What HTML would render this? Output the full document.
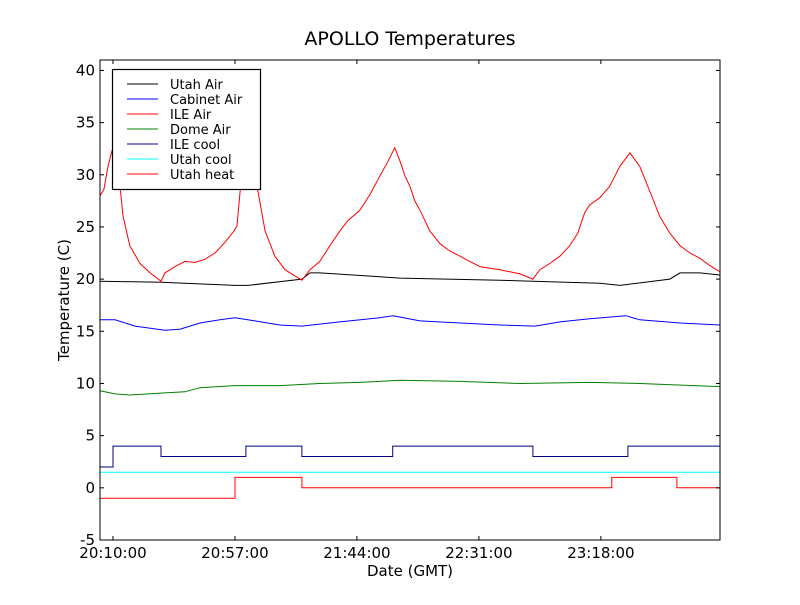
<!DOCTYPE html>
<html><head><meta charset="utf-8"><style>
body{margin:0;background:#fff;}
svg text{font-family:"DejaVu Sans","Liberation Sans",sans-serif;}
</style></head><body>
<svg id="chart" width="800" height="600" xmlns="http://www.w3.org/2000/svg">
<rect width="800" height="600" fill="#fff"/>
<text x="410" y="45" font-size="19" text-anchor="middle">APOLLO Temperatures</text>
<g id="plot"></g>
<g id="axes"></g>
<text x="410" y="576" font-size="15" text-anchor="middle">Date (GMT)</text>
<text transform="translate(69,300) rotate(-90)" font-size="15" text-anchor="middle">Temperature (C)</text>
<g id="legend"></g>
</svg>
<script>
// minutes since 20:10:00
const xTickMinutes=[0,47,94,141,188];
const xTickLabels=["20:10:00","20:57:00","21:44:00","22:31:00","23:18:00"];
const yTicks=[-5,0,5,10,15,20,25,30,35,40];
const seriesNames=["Utah Air","Cabinet Air","ILE Air","Dome Air","ILE cool","Utah cool","Utah heat"];
const seriesColors=["#000000","#0000ff","#ff0000","#008000","#000080","#00ffff","#ff0000"];
const ileAirT=[-5,-3.5,-1.9,-0.4,1.5,2.7,3.9,6.5,10.4,14.3,18.5,20,23.9,27.7,31.6,35.4,39.3,43.1,46.6,47.8,49,51.5,53.5,55.9,58.6,62.4,66.3,72.8,75.9,79.7,83.6,87.4,90.5,95.1,99,102.9,106,108.6,110.6,112.5,114.4,116.3,118.3,122.1,126,129.8,133.7,137.5,141.4,149.1,156.8,161.8,164.5,168.3,172.2,176,179.1,181.8,183.7,187.6,191.4,195.3,199.2,203,206.9,210.7,214.6,218.5,222.3,226.2,230,233.9];
const ileAirV=[28,28.6,30.8,32.3,33,28.9,26,23.2,21.5,20.6,19.8,20.6,21.2,21.7,21.6,21.9,22.5,23.5,24.6,25.1,28.4,33.5,31,28.4,24.6,22.2,20.9,19.9,20.9,21.7,23.2,24.6,25.6,26.6,28.1,29.9,31.3,32.6,31.3,29.9,28.9,27.5,26.6,24.6,23.4,22.7,22.2,21.7,21.2,20.9,20.5,20,20.9,21.5,22.2,23.2,24.4,26.4,27.1,27.8,28.9,30.8,32.1,30.8,28.4,26,24.4,23.2,22.5,22,21.3,20.7];
const utahAirT=[-5,18.5,47,52,72.8,75.9,79.7,110.6,149.1,187.6,195.3,214.6,218.5,226.2,233.9];
const utahAirV=[19.8,19.7,19.4,19.4,20,20.6,20.6,20.1,19.9,19.6,19.4,20,20.6,20.6,20.4];
const cabinetT=[-5,0.8,8.5,20,25.8,33.5,41.2,47,54.7,64.3,72.8,87.4,102.9,107.9,118.3,133.7,149.1,162.6,172.2,183.7,197.6,203,218.5,233.9];
const cabinetV=[16.1,16.1,15.5,15.1,15.2,15.8,16.1,16.3,16,15.6,15.5,15.9,16.3,16.5,16,15.8,15.6,15.5,15.9,16.2,16.5,16.1,15.8,15.6];
const domeT=[-5,0.8,6.5,20,27.7,33.5,47,64.3,79.7,95.1,110.6,133.7,156.8,183.7,203,233.9];
const domeV=[9.3,9,8.9,9.1,9.2,9.6,9.8,9.8,10,10.1,10.3,10.2,10,10.1,10,9.7];
const ileCoolT=[-5,0,18.5,51.2,72.8,107.8,161.8,198.4];
const ileCoolV=[2,4,3,4,3,4,3,4];
const utahCoolT=[-5];
const utahCoolV=[1.5];
const utahHeatT=[-5,47,72.8,192.2,217.3];
const utahHeatV=[-1,1,0,1,0];
const xMin=-5,xMax=233.9,yMin=-5,yMax=41;
const L=100,R=720,T=60,B=540;
const NS="http://www.w3.org/2000/svg";
const xs=m=>L+(m-xMin)/(xMax-xMin)*(R-L);
const ys=v=>B-(v-yMin)/(yMax-yMin)*(B-T);
function mk(tag,attrs,parent){const e=document.createElementNS(NS,tag);for(const k in attrs)e.setAttribute(k,attrs[k]);parent.appendChild(e);return e;}
const plot=document.getElementById('plot'),axes=document.getElementById('axes'),leg=document.getElementById('legend');
function linePath(t,v){return t.map((m,i)=>(i?'L':'M')+xs(m).toFixed(1)+','+ys(v[i]).toFixed(1)).join('');}
function stepPath(t,v){let d='';for(let i=0;i<t.length;i++){const x0=xs(t[i]),x1=i+1<t.length?xs(t[i+1]):xs(xMax);const y=ys(v[i]).toFixed(1);d+=(i?'L':'M')+x0.toFixed(1)+','+y+'L'+x1.toFixed(1)+','+y;}return d;}
const paths=[linePath(utahAirT,utahAirV),linePath(cabinetT,cabinetV),linePath(ileAirT,ileAirV),linePath(domeT,domeV),stepPath(ileCoolT,ileCoolV),stepPath(utahCoolT,utahCoolV),stepPath(utahHeatT,utahHeatV)];
const seriesSlugs=["utah-air-line","cabinet-air-line","ile-air-line","dome-air-line","ile-cool-line","utah-cool-line","utah-heat-line"];
paths.forEach((d,i)=>{const p=mk('path',{d:d,fill:'none',stroke:seriesColors[i],'stroke-width':1},plot);

});
const frame=mk('rect',{x:L,y:T,width:R-L,height:B-T,fill:'none',stroke:'#000','stroke-width':1},axes);


xTickMinutes.forEach((m,i)=>{const x=xs(m);
mk('line',{x1:x,y1:B,x2:x,y2:B-4,stroke:'#000'},axes);mk('line',{x1:x,y1:T,x2:x,y2:T+4,stroke:'#000'},axes);
const t=mk('text',{x:x,y:B+18,'font-size':15,'text-anchor':'middle'},axes);t.textContent=xTickLabels[i];

});
yTicks.forEach(v=>{const y=ys(v);
mk('line',{x1:L,y1:y,x2:L+4,y2:y,stroke:'#000'},axes);mk('line',{x1:R,y1:y,x2:R-4,y2:y,stroke:'#000'},axes);
const t=mk('text',{x:L-5,y:y+5,'font-size':15,'text-anchor':'end'},axes);t.textContent=v;

});
mk('rect',{x:112.5,y:69.5,width:148,height:120,fill:'#fff',stroke:'#000','stroke-width':1.2},leg);
seriesNames.forEach((n,i)=>{const y=84+i*15;
const g=mk('g',{},leg);


mk('line',{x1:127,y1:y,x2:158,y2:y,stroke:seriesColors[i],'stroke-width':1},g);
const t=mk('text',{x:170,y:y+5,'font-size':13},g);t.textContent=n;});
</script>
</body></html>
